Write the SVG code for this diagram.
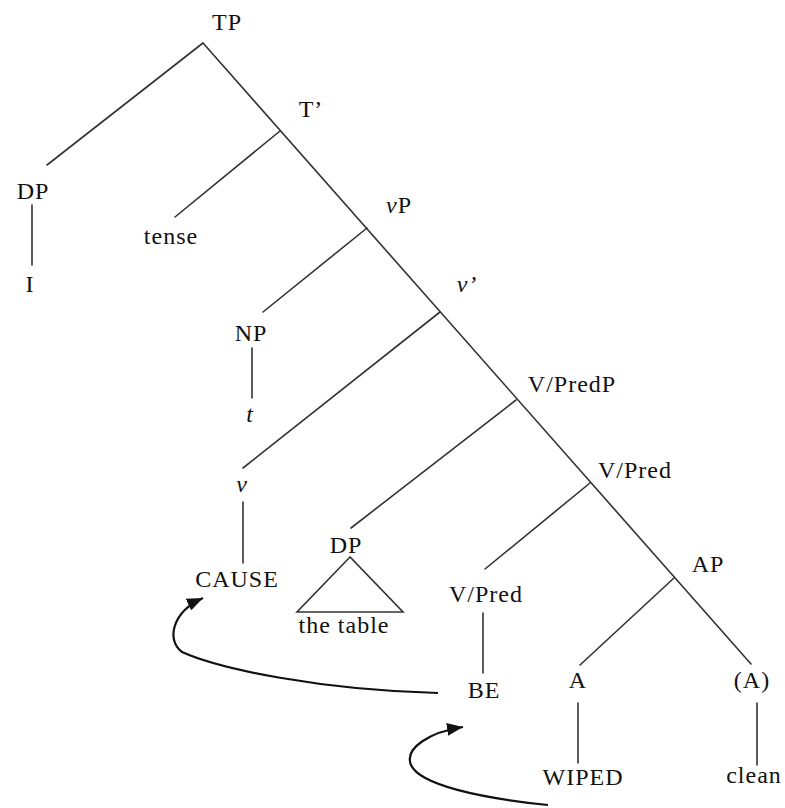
<svg xmlns="http://www.w3.org/2000/svg" width="785" height="808" viewBox="0 0 785 808">
<style>
text{font-size:24px;fill:#111;text-anchor:middle;letter-spacing:1px}
.it{font-style:italic}
.edge{stroke:#333;stroke-width:1.6;fill:none;stroke-linecap:round}
.move{stroke:#111;stroke-width:2.2;fill:none}
</style>
<defs>
<marker id="ah" markerUnits="userSpaceOnUse" markerWidth="17" markerHeight="13" refX="16" refY="6.5" orient="auto">
<path d="M0,0 L16,6.5 L0,13 z" fill="#111"/>
</marker>
</defs>
<rect width="785" height="808" fill="#fff"/>
<g id="connectors">
<line class="edge" x1="203" y1="43" x2="751" y2="664"/>
<line class="edge" x1="203" y1="43" x2="47" y2="165"/>
<line class="edge" x1="280" y1="131" x2="175" y2="217"/>
<line class="edge" x1="367" y1="228" x2="263" y2="312"/>
<line class="edge" x1="440" y1="312" x2="243" y2="468"/>
<line class="edge" x1="516" y1="400" x2="351" y2="528"/>
<line class="edge" x1="590" y1="483" x2="485" y2="569"/>
<line class="edge" x1="674" y1="578" x2="580" y2="665"/>
<line class="edge" x1="32" y1="205" x2="32" y2="265"/>
<line class="edge" x1="252" y1="348" x2="252" y2="398"/>
<line class="edge" x1="243" y1="502" x2="243" y2="563"/>
<line class="edge" x1="483" y1="613" x2="483" y2="673"/>
<line class="edge" x1="578" y1="703" x2="578" y2="763"/>
<line class="edge" x1="757" y1="703" x2="757" y2="765"/>
<path class="edge" d="M350,557 L297,612 L403,612 Z"/>
<path class="move" d="M438,693 C320,690 220,669 182,652 C166,640 172,612 203,598" marker-end="url(#ah)"/>
<path class="move" d="M548,805 C480,798 420,785 411,765 C404,748 430,732 463,727" marker-end="url(#ah)"/>
</g>
<g id="nodes" font-family="Liberation Serif, DejaVu Serif, serif">
<g id="TP"><text x="227" y="30">TP</text></g>
<g id="Tbar"><text x="311" y="117">T’</text></g>
<g id="DP-subj"><text x="33" y="199">DP</text></g>
<g id="I"><text x="30" y="292">I</text></g>
<g id="tense"><text x="171" y="244">tense</text></g>
<g id="vP"><text x="399" y="213"><tspan class="it">v</tspan>P</text></g>
<g id="NP"><text x="251" y="341">NP</text></g>
<g id="t"><text x="250" y="422" class="it">t</text></g>
<g id="vbar"><text x="467" y="292" class="it">v’</text></g>
<g id="v"><text x="242" y="492" class="it">v</text></g>
<g id="VPredP"><text x="572" y="392">V/PredP</text></g>
<g id="VPred-bar"><text x="635" y="478">V/Pred</text></g>
<g id="CAUSE"><text x="237" y="587">CAUSE</text></g>
<g id="DP-obj"><text x="346" y="553">DP</text><text x="344" y="633">the table</text></g>
<g id="VPred-head"><text x="486" y="602">V/Pred</text></g>
<g id="AP"><text x="708" y="572">AP</text></g>
<g id="BE"><text x="484" y="698">BE</text></g>
<g id="A"><text x="578" y="688">A</text></g>
<g id="A-paren"><text x="752" y="688">(A)</text></g>
<g id="WIPED"><text x="583" y="785">WIPED</text></g>
<g id="clean"><text x="754" y="783">clean</text></g>
</g>
</svg>
